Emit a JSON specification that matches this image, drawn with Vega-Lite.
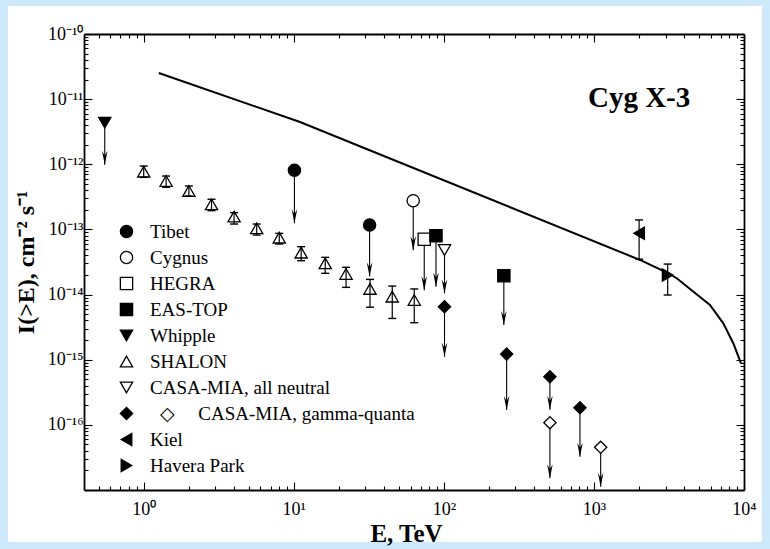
{
  "$schema": "https://vega.github.io/schema/vega-lite/v6.json",
  "width": 754,
  "height": 536,
  "padding": {"left": 8, "top": 6, "right": 8, "bottom": 7},
  "autosize": {"type": "none"},
  "background": "#cde9fb",
  "config": {
    "view": {"fill": "white", "stroke": null},
    "font": "Liberation Serif",
    "axis": {"grid": false, "domainColor": "black", "tickColor": "black", "labelColor": "black", "titleColor": "black", "labelFont": "Liberation Serif", "titleFont": "Liberation Serif", "domainWidth": 1.8, "tickWidth": 1.1}
  },
  "datasets": {
    "pts": [
      {"series": "Tibet", "E": 10.1, "I": 8.1e-13, "Ilim": 1.24e-13},
      {"series": "Tibet", "E": 32, "I": 1.17e-13, "Ilim": 1.9e-14},
      {"series": "Cygnus", "E": 62.5, "I": 2.76e-13, "Ilim": 4.8e-14},
      {"series": "HEGRA", "E": 74, "I": 7.05e-14, "Ilim": 1.17e-14},
      {"series": "EAS-TOP", "E": 88.6, "I": 8.0e-14, "Ilim": 1.32e-14},
      {"series": "EAS-TOP", "E": 251, "I": 1.95e-14, "Ilim": 3.4e-15},
      {"series": "Whipple", "E": 0.55, "I": 4.35e-12, "Ilim": 9.8e-13},
      {"series": "SHALON", "E": 1.0, "I": 7.7e-13, "Ihi": 9.4e-13, "Ilo": 6.3e-13},
      {"series": "SHALON", "E": 1.41, "I": 5.54e-13, "Ihi": 6.6e-13, "Ilo": 4.43e-13},
      {"series": "SHALON", "E": 2.0, "I": 3.89e-13, "Ihi": 4.64e-13, "Ilo": 3.26e-13},
      {"series": "SHALON", "E": 2.83, "I": 2.43e-13, "Ihi": 2.9e-13, "Ilo": 1.94e-13},
      {"series": "SHALON", "E": 4.0, "I": 1.57e-13, "Ihi": 1.81e-13, "Ilo": 1.21e-13},
      {"series": "SHALON", "E": 5.66, "I": 1.04e-13, "Ihi": 1.21e-13, "Ilo": 8.2e-14},
      {"series": "SHALON", "E": 8.0, "I": 7.46e-14, "Ihi": 8.7e-14, "Ilo": 5.97e-14},
      {"series": "SHALON", "E": 11.2, "I": 4.39e-14, "Ihi": 5.43e-14, "Ilo": 3.31e-14},
      {"series": "SHALON", "E": 16.2, "I": 3.02e-14, "Ihi": 3.73e-14, "Ilo": 2.12e-14},
      {"series": "SHALON", "E": 22.3, "I": 2.07e-14, "Ihi": 2.62e-14, "Ilo": 1.29e-14},
      {"series": "SHALON", "E": 32.2, "I": 1.22e-14, "Ihi": 1.71e-14, "Ilo": 6.4e-15},
      {"series": "SHALON", "E": 45.3, "I": 9.27e-15, "Ihi": 1.35e-14, "Ilo": 4.3e-15},
      {"series": "SHALON", "E": 63.5, "I": 8.26e-15, "Ihi": 1.22e-14, "Ilo": 3.7e-15},
      {"series": "CASA-MIA, all neutral", "E": 101, "I": 4.83e-14, "Ilim": 1.04e-14},
      {"series": "CASA-MIA, gamma-quanta", "E": 101, "I": 6.5e-15, "Ilim": 1.11e-15},
      {"series": "CASA-MIA, gamma-quanta", "E": 262, "I": 1.22e-15, "Ilim": 1.69e-16},
      {"series": "CASA-MIA, gamma-quanta", "E": 509, "I": 5.48e-16, "Ilim": 1.7e-16},
      {"series": "CASA-MIA, gamma-quanta", "E": 807, "I": 1.83e-16, "Ilim": 3.24e-17},
      {"series": "CASA-MIA, gamma-quanta (open)", "E": 509, "I": 1.08e-16, "Ilim": 1.51e-17},
      {"series": "CASA-MIA, gamma-quanta (open)", "E": 1109, "I": 4.52e-17, "Ilim": 1.12e-17},
      {"series": "Kiel", "E": 2000, "I": 8.7e-14, "Ihi": 1.4e-13, "Ilo": 3.5e-14},
      {"series": "Havera Park", "E": 3100, "I": 2.0e-14, "Ihi": 2.94e-14, "Ilo": 9.85e-15}
    ],
    "curve": [
      {"E": 1.26, "I": 2.52e-11},
      {"E": 11, "I": 4.46e-12},
      {"E": 2028, "I": 3.4e-14},
      {"E": 3116, "I": 2.14e-14},
      {"E": 3560, "I": 1.78e-14},
      {"E": 5933, "I": 6.92e-15},
      {"E": 7278, "I": 3.62e-15},
      {"E": 8485, "I": 1.79e-15},
      {"E": 9550, "I": 8.8e-16}
    ],
    "note": [
      {"label": "Cyg X-3", "E": 2000, "I": 7.6e-12}
    ]
  },
  "resolve": {"axis": {"x": "independent", "y": "independent"}},
  "layer": [
    {
      "data": {"name": "curve"},
      "mark": {"type": "line", "color": "black", "strokeWidth": 2},
      "encoding": {
        "x": {"field": "E", "type": "quantitative",
          "scale": {"type": "log", "domain": [0.4, 10000], "range": [76, 736], "nice": false},
          "axis": {"orient": "bottom", "offset": -52, "values": [1, 10, 100, 1000, 10000], "tickSize": -8, "labelExpr": "'10' + ['⁰','¹','²','³','⁴'][round(log(datum.value)/LN10)]", "labelFontSize": 18, "labelPadding": 18, "labelFlush": false, "labelOverlap": false, "title": "E, TeV", "titleFontSize": 25, "titleFontWeight": "bold", "titlePadding": 3, "titleX": 398, "titleAlign": "center"}},
        "y": {"field": "I", "type": "quantitative",
          "scale": {"type": "log", "domain": [1e-17, 1e-10], "range": [484, 28], "nice": false},
          "axis": {"orient": "left", "offset": -76, "values": [1e-16, 1e-15, 1e-14, 1e-13, 1e-12, 1e-11, 1e-10], "tickSize": -8, "labelExpr": "'10' + ['⁻¹⁰','⁻¹¹','⁻¹²','⁻¹³','⁻¹⁴','⁻¹⁵','⁻¹⁶'][-round(log(datum.value)/LN10) - 10]", "labelFontSize": 18, "labelPadding": 9, "labelFlush": false, "labelOverlap": false, "title": "I(>E), cm⁻² s⁻¹", "titleFontSize": 24, "titleFontWeight": "bold", "titlePadding": 9}}
      }
    },
    {
      "data": {"name": "pts"},
      "transform": [{"filter": "isValid(datum.Ilim)"}],
      "mark": {"type": "rule", "color": "black", "strokeWidth": 1.1},
      "encoding": {
        "x": {"field": "E", "type": "quantitative", "axis": null},
        "y": {"field": "I", "type": "quantitative", "axis": null},
        "y2": {"field": "Ilim"}
      }
    },
    {
      "data": {"name": "pts"},
      "transform": [{"filter": "isValid(datum.Ilim)"}],
      "mark": {"type": "point", "shape": "M-0.4,-2L0,0L0.4,-2L0,-1.3Z", "filled": true, "color": "black", "opacity": 1, "size": 196},
      "encoding": {
        "x": {"field": "E", "type": "quantitative", "axis": null},
        "y": {"field": "Ilim", "type": "quantitative", "axis": null}
      }
    },
    {
      "data": {"name": "pts"},
      "mark": {"type": "point", "filled": true, "strokeWidth": 1.3, "opacity": 1, "size": 150},
      "encoding": {
        "x": {"field": "E", "type": "quantitative", "axis": null},
        "y": {"field": "I", "type": "quantitative", "axis": null},
        "shape": {"field": "series", "type": "nominal",
          "scale": {"domain": ["Tibet", "Cygnus", "HEGRA", "EAS-TOP", "Whipple", "SHALON", "CASA-MIA, all neutral", "CASA-MIA, gamma-quanta", "Kiel", "Havera Park", "CASA-MIA, gamma-quanta (open)"],
                    "range": ["circle", "circle", "square", "square", "triangle-down", "triangle-up", "triangle-down", "diamond", "triangle-left", "triangle-right", "diamond"]},
          "legend": {"orient": "none", "legendX": 109, "legendY": 216, "title": null, "padding": 0,
            "values": ["Tibet", "Cygnus", "HEGRA", "EAS-TOP", "Whipple", "SHALON", "CASA-MIA, all neutral", "CASA-MIA, gamma-quanta", "Kiel", "Havera Park"],
            "labelFontSize": 19, "labelFont": "Liberation Serif", "labelColor": "black", "labelLimit": 500, "rowPadding": 6.0, "labelOffset": 14, "symbolSize": 150, "symbolStrokeWidth": 1.3,
            "labelExpr": "datum.label == 'CASA-MIA, gamma-quanta' ? '\u2060\u00a0\u00a0◇\u00a0\u00a0\u00a0\u00a0\u00a0' + datum.label : datum.label"}},
        "fill": {"field": "series", "type": "nominal",
          "scale": {"domain": ["Tibet", "Cygnus", "HEGRA", "EAS-TOP", "Whipple", "SHALON", "CASA-MIA, all neutral", "CASA-MIA, gamma-quanta", "Kiel", "Havera Park", "CASA-MIA, gamma-quanta (open)"],
                    "range": ["black", "white", "white", "black", "black", "white", "white", "black", "black", "black", "white"]},
          "legend": {"orient": "none", "legendX": 109, "legendY": 216, "title": null, "padding": 0,
            "values": ["Tibet", "Cygnus", "HEGRA", "EAS-TOP", "Whipple", "SHALON", "CASA-MIA, all neutral", "CASA-MIA, gamma-quanta", "Kiel", "Havera Park"],
            "labelFontSize": 19, "labelFont": "Liberation Serif", "labelColor": "black", "labelLimit": 500, "rowPadding": 6.0, "labelOffset": 14, "symbolSize": 150, "symbolStrokeWidth": 1.3,
            "labelExpr": "datum.label == 'CASA-MIA, gamma-quanta' ? '\u2060\u00a0\u00a0◇\u00a0\u00a0\u00a0\u00a0\u00a0' + datum.label : datum.label"}},
        "stroke": {"field": "series", "type": "nominal",
          "scale": {"domain": ["Tibet", "Cygnus", "HEGRA", "EAS-TOP", "Whipple", "SHALON", "CASA-MIA, all neutral", "CASA-MIA, gamma-quanta", "Kiel", "Havera Park", "CASA-MIA, gamma-quanta (open)"],
                    "range": ["black", "black", "black", "black", "black", "black", "black", "black", "black", "black", "black"]},
          "legend": {"orient": "none", "legendX": 109, "legendY": 216, "title": null, "padding": 0,
            "values": ["Tibet", "Cygnus", "HEGRA", "EAS-TOP", "Whipple", "SHALON", "CASA-MIA, all neutral", "CASA-MIA, gamma-quanta", "Kiel", "Havera Park"],
            "labelFontSize": 19, "labelFont": "Liberation Serif", "labelColor": "black", "labelLimit": 500, "rowPadding": 6.0, "labelOffset": 14, "symbolSize": 150, "symbolStrokeWidth": 1.3,
            "labelExpr": "datum.label == 'CASA-MIA, gamma-quanta' ? '\u2060\u00a0\u00a0◇\u00a0\u00a0\u00a0\u00a0\u00a0' + datum.label : datum.label"}}
      }
    },
    {
      "data": {"name": "pts"},
      "transform": [{"filter": "isValid(datum.Ihi)"}],
      "mark": {"type": "rule", "color": "black", "strokeWidth": 1.2},
      "encoding": {
        "x": {"field": "E", "type": "quantitative",
          "axis": {"orient": "bottom", "offset": -52, "values": [0.5, 0.6, 0.7, 0.8, 0.9, 2, 3, 4, 5, 6, 7, 8, 9, 20, 30, 40, 50, 60, 70, 80, 90, 200, 300, 400, 500, 600, 700, 800, 900, 2000, 3000, 4000, 5000, 6000, 7000, 8000, 9000], "tickSize": -4, "labels": false, "domain": false, "title": null}},
        "y": {"field": "Ilo", "type": "quantitative",
          "axis": {"orient": "left", "offset": -76, "values": [2e-17, 3e-17, 4e-17, 5e-17, 6e-17, 7e-17, 8e-17, 9e-17, 2e-16, 3e-16, 4e-16, 5e-16, 6e-16, 7e-16, 8e-16, 9e-16, 2e-15, 3e-15, 4e-15, 5e-15, 6e-15, 7e-15, 8e-15, 9e-15, 2e-14, 3e-14, 4e-14, 5e-14, 6e-14, 7e-14, 8e-14, 9e-14, 2e-13, 3e-13, 4e-13, 5e-13, 6e-13, 7e-13, 8e-13, 9e-13, 2e-12, 3e-12, 4e-12, 5e-12, 6e-12, 7e-12, 8e-12, 9e-12, 2e-11, 3e-11, 4e-11, 5e-11, 6e-11, 7e-11, 8e-11, 9e-11], "tickSize": -4, "labels": false, "domain": false, "title": null}},
        "y2": {"field": "Ihi"}
      }
    },
    {
      "data": {"name": "pts"},
      "transform": [{"filter": "isValid(datum.Ihi)"}],
      "mark": {"type": "tick", "orient": "horizontal", "color": "black", "size": 8, "thickness": 1.4, "opacity": 1},
      "encoding": {
        "x": {"field": "E", "type": "quantitative",
          "axis": {"orient": "top", "offset": -28, "values": [1, 10, 100, 1000, 10000], "tickSize": -8, "labels": false, "title": null}},
        "y": {"field": "Ihi", "type": "quantitative",
          "axis": {"orient": "right", "offset": -18, "values": [1e-16, 1e-15, 1e-14, 1e-13, 1e-12, 1e-11, 1e-10], "tickSize": -8, "labels": false, "title": null}}
      }
    },
    {
      "data": {"name": "pts"},
      "transform": [{"filter": "isValid(datum.Ilo)"}],
      "mark": {"type": "tick", "orient": "horizontal", "color": "black", "size": 8, "thickness": 1.4, "opacity": 1},
      "encoding": {
        "x": {"field": "E", "type": "quantitative",
          "axis": {"orient": "top", "offset": -28, "values": [0.5, 0.6, 0.7, 0.8, 0.9, 2, 3, 4, 5, 6, 7, 8, 9, 20, 30, 40, 50, 60, 70, 80, 90, 200, 300, 400, 500, 600, 700, 800, 900, 2000, 3000, 4000, 5000, 6000, 7000, 8000, 9000], "tickSize": -4, "labels": false, "domain": false, "title": null}},
        "y": {"field": "Ilo", "type": "quantitative",
          "axis": {"orient": "right", "offset": -18, "values": [2e-17, 3e-17, 4e-17, 5e-17, 6e-17, 7e-17, 8e-17, 9e-17, 2e-16, 3e-16, 4e-16, 5e-16, 6e-16, 7e-16, 8e-16, 9e-16, 2e-15, 3e-15, 4e-15, 5e-15, 6e-15, 7e-15, 8e-15, 9e-15, 2e-14, 3e-14, 4e-14, 5e-14, 6e-14, 7e-14, 8e-14, 9e-14, 2e-13, 3e-13, 4e-13, 5e-13, 6e-13, 7e-13, 8e-13, 9e-13, 2e-12, 3e-12, 4e-12, 5e-12, 6e-12, 7e-12, 8e-12, 9e-12, 2e-11, 3e-11, 4e-11, 5e-11, 6e-11, 7e-11, 8e-11, 9e-11], "tickSize": -4, "labels": false, "domain": false, "title": null}}
      }
    },
    {
      "data": {"name": "note"},
      "mark": {"type": "text", "font": "Liberation Serif", "fontSize": 29, "fontWeight": "bold", "align": "center", "baseline": "alphabetic", "color": "black"},
      "encoding": {
        "x": {"field": "E", "type": "quantitative", "axis": null},
        "y": {"field": "I", "type": "quantitative", "axis": null},
        "text": {"field": "label"}
      }
    }
  ]
}
